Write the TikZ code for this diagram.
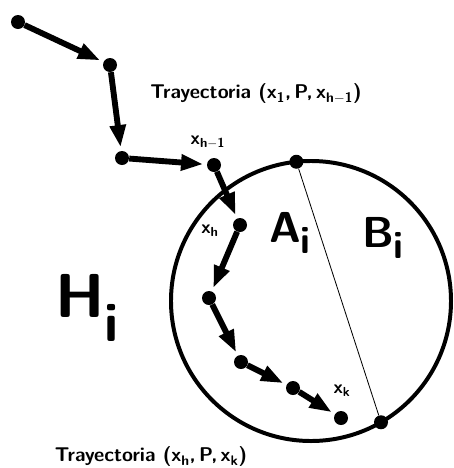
\documentclass[tikz,border=0pt]{standalone}
\usepackage{fontspec}
\usepackage{tikz}
\usetikzlibrary{arrows.meta, positioning}

% x with a subscript, and a big letter with a big lowered index
\newcommand{\xs}[1]{x\textsubscript{#1}}
\newcommand{\bigidx}[3]{#1\raisebox{-#3}{\fontsize{#2}{#2}\selectfont i}}

\begin{document}
\begin{tikzpicture}[x=0.03cm, y=-0.03cm,
  dot/.style   = {circle, fill=black, inner sep=0pt, minimum size=0.42cm},
  hop/.style   = {-{Triangle[length=19pt, width=13pt]}, line width=5pt,
                  shorten >=3pt},
  lbl/.style   = {font=\sffamily\bfseries\fontsize{17}{19}\selectfont},
  xlbl/.style  = {font=\sffamily\bfseries\fontsize{16}{18}\selectfont},
  big/.style   = {font=\sffamily\bfseries\fontsize{37}{40}\selectfont},
  huge/.style  = {font=\sffamily\bfseries\fontsize{53}{56}\selectfont}
]
\useasboundingbox (0,0) rectangle (454,468);

% the region
\node[draw, circle, line width=3.4pt, outer sep=0pt, minimum size=8.4cm]
  (region) at (311,301) {};
\node[dot] (q1) at (region.96) {};
\node[dot] (q2) at (region.-60) {};
\draw[line width=0.7pt] (q1) -- (q2);

% path points
\node[dot] (p1) at (18,22)   {};
\node[dot] (p2) at (110,65)  {};
\node[dot] (p3) at (122,158) {};
\node[dot] (p4) at (214,165) {};
\node[dot] (p5) at (240,225) {};
\node[dot] (p6) at (209,298) {};
\node[dot] (p7) at (241,362) {};
\node[dot] (p8) at (293,388) {};
\node[dot] (p9) at (341,418) {};

\draw[hop] (p1) -- (p2);
\draw[hop] (p2) -- (p3);
\draw[hop] (p3) -- (p4);
\draw[hop] (p4) -- (p5);
\draw[hop] (p5) -- (p6);
\draw[hop] (p6) -- (p7);
\draw[hop] (p7) -- (p8);
\draw[hop] (p8) -- (p9);

% labels
\node[lbl] (tr1) at (256,94)
  {Trayectoria (\xs{1},\,P,\,\xs{h$-$1})};
\node[lbl] (tr2) at (151,457)
  {Trayectoria (\xs{h},\,P,\,\xs{k})};
\node[xlbl] (xh1) at (208,142) {\xs{h$-$1}};
\node[xlbl] (xh)  at (210,231) {\xs{h}};
\node[xlbl] (xk)  at (342,391) {\xs{k}};
\node[big] (ai) at (290,233) {\bigidx{A}{33}{10pt}};
\node[big] (bi) at (383,238) {\bigidx{B}{33}{10pt}};
\node[huge] (hi) at (87,308) {\bigidx{H}{47}{20pt}};
\end{tikzpicture}
\end{document}
